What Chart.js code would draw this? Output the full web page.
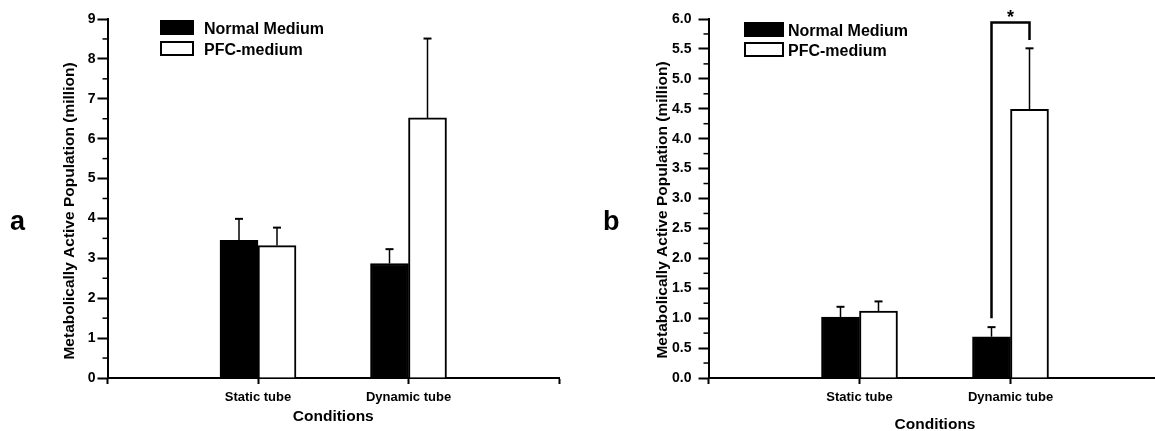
<!DOCTYPE html>
<html>
<head>
<meta charset="utf-8">
<script src="https://cdn.jsdelivr.net/npm/chart.js@4.4.0/dist/chart.umd.min.js"></script>
<style>
  html, body { margin: 0; padding: 0; background: #fff; overflow: hidden; }
  #wrap { position: relative; width: 1155px; height: 431px; overflow: hidden; }
  canvas { position: absolute; top: 0; }
  #chartA { left: 0; }
  #chartB { left: 580px; }
</style>
</head>
<body>
<div id="wrap">
  <canvas id="chartA" width="580" height="431"></canvas>
  <canvas id="chartB" width="600" height="431"></canvas>
</div>
<script>
// categories (empty slots at both ends keep the two groups at 1/3 and 2/3 of the axis)
const categories = ['', 'Static tube', 'Dynamic tube', ''];
const seriesNames = ['Normal Medium', 'PFC-medium'];

// panel a
const normalA = [null, 3.45, 2.87, null];
const normalAErr = [null, 0.54, 0.36, null];
const pfcA = [null, 3.32, 6.52, null];
const pfcAErr = [null, 0.45, 1.99, null];
const ticksA = [0, 1, 2, 3, 4, 5, 6, 7, 8, 9];

// panel b
const normalB = [null, 1.02, 0.69, null];
const normalBErr = [null, 0.17, 0.16, null];
const pfcB = [null, 1.12, 4.49, null];
const pfcBErr = [null, 0.16, 1.02, null];
const ticksB = [0, 0.5, 1, 1.5, 2, 2.5, 3, 3.5, 4, 4.5, 5, 5.5, 6];

// significance bracket on Dynamic tube (panel b): foot heights + top
const sigLow = [1.0, 5.65];
const sigTop = 5.94;

const FONT = '"Liberation Sans", Arial, Helvetica, sans-serif';
Chart.defaults.font.family = FONT;
Chart.defaults.color = '#000';

const panelDecor = {
  id: 'panelDecor',
  afterDatasetsDraw(chart) {
    // error bars (upper half only)
    const ctx = chart.ctx;
    const y = chart.scales.y;
    ctx.save();
    ctx.strokeStyle = '#000';
    chart.data.datasets.forEach((ds, i) => {
      const meta = chart.getDatasetMeta(i);
      meta.data.forEach((bar, j) => {
        const v = ds.data[j], e = ds.errors[j];
        if (v == null || e == null) return;
        const y0 = y.getPixelForValue(v);
        const y1 = y.getPixelForValue(v + e);
        ctx.lineWidth = 1.5;
        ctx.beginPath();
        ctx.moveTo(bar.x, y0);
        ctx.lineTo(bar.x, y1);
        ctx.stroke();
        ctx.lineWidth = 2;
        ctx.beginPath();
        ctx.moveTo(bar.x - 4, y1);
        ctx.lineTo(bar.x + 4, y1);
        ctx.stroke();
      });
    });
    ctx.restore();
  },
  afterDraw(chart, args, o) {
    const ctx = chart.ctx;
    const area = chart.chartArea;
    const y = chart.scales.y;
    ctx.save();
    ctx.fillStyle = '#000';
    ctx.strokeStyle = '#000';

    // minor ticks
    ctx.lineWidth = 1.5;
    const step = o.minorStep;
    for (let v = y.min + step; v < y.max; v += 2 * step) {
      const py = y.getPixelForValue(v);
      ctx.beginPath();
      ctx.moveTo(area.left - 5, py);
      ctx.lineTo(area.left, py);
      ctx.stroke();
    }

    // axis titles
    ctx.font = 'bold 15.5px ' + FONT;
    ctx.textAlign = 'center';
    ctx.textBaseline = 'middle';
    ctx.save();
    ctx.translate(o.yTitleX, o.yTitleY);
    ctx.rotate(-Math.PI / 2);
    ctx.fillText('Metabolically Active Population (million)', 0, 0);
    ctx.restore();
    ctx.textBaseline = 'alphabetic';
    ctx.fillText('Conditions', (area.left + area.right) / 2, o.xTitleY);

    // panel letter
    ctx.font = 'bold 27px ' + FONT;
    ctx.textAlign = 'left';
    ctx.fillText(o.letter, o.letterX, 230);

    // legend
    ctx.font = 'bold 16px ' + FONT;
    ctx.lineWidth = 2;
    chart.data.datasets.forEach((ds, i) => {
      const top = o.legendY[i];
      ctx.fillStyle = ds.backgroundColor;
      ctx.fillRect(o.boxX, top, o.boxW, 15);
      ctx.strokeRect(o.boxX + 1, top + 1, o.boxW - 2, 13);
      ctx.fillStyle = '#000';
      ctx.fillText(ds.label, o.textX, top + 14);
    });

    // significance bracket
    if (o.bracket) {
      const xa = chart.getDatasetMeta(0).data[2].x;
      const xb = chart.getDatasetMeta(1).data[2].x;
      const yt = y.getPixelForValue(sigTop);
      ctx.lineWidth = 2.5;
      ctx.beginPath();
      ctx.moveTo(xa, y.getPixelForValue(sigLow[0]));
      ctx.lineTo(xa, yt);
      ctx.lineTo(xb, yt);
      ctx.lineTo(xb, y.getPixelForValue(sigLow[1]));
      ctx.stroke();
      ctx.font = 'bold 18px ' + FONT;
      ctx.textAlign = 'center';
      ctx.fillText('*', (xa + xb) / 2, yt);
    }
    ctx.restore();
  }
};

function buildChart(id, normal, normalErr, pfc, pfcErr, yTicks, decimals, yWidth, padRight, tickPad, decor) {
  return new Chart(document.getElementById(id), {
    type: 'bar',
    data: {
      labels: categories,
      datasets: [
        { label: seriesNames[0], data: normal, errors: normalErr, backgroundColor: '#000', borderColor: '#000', borderWidth: 2, barThickness: 38 },
        { label: seriesNames[1], data: pfc, errors: pfcErr, backgroundColor: '#fff', borderColor: '#000', borderWidth: 2, barThickness: 38 }
      ]
    },
    options: {
      responsive: false,
      animation: false,
      layout: { padding: { top: 19, right: padRight, left: 0, bottom: 0 } },
      plugins: { legend: { display: false }, tooltip: { enabled: false }, panelDecor: decor },
      scales: {
        x: {
          offset: false,
          grid: { offset: false, drawOnChartArea: false, tickLength: 6, tickWidth: 2, tickColor: '#000' },
          border: { color: '#000', width: 2 },
          ticks: { font: { size: 13, weight: 'bold' }, color: '#000', autoSkip: false, maxRotation: 0, minRotation: 0, padding: 6 },
          afterFit: s => { s.height = 53; }
        },
        y: {
          min: yTicks[0],
          max: yTicks[yTicks.length - 1],
          grid: { drawOnChartArea: false, tickLength: 10, tickWidth: 2, tickColor: '#000' },
          border: { color: '#000', width: 2 },
          ticks: {
            stepSize: yTicks[1] - yTicks[0],
            font: { size: 14, weight: 'bold' },
            color: '#000',
            padding: tickPad,
            callback: v => v.toFixed(decimals)
          },
          afterFit: s => { s.width = yWidth; }
        }
      }
    },
    plugins: [panelDecor]
  });
}

buildChart('chartA', normalA, normalAErr, pfcA, pfcAErr, ticksA, 0, 107.5, 21, 2, {
  minorStep: 0.5, yTitleX: 70, yTitleY: 211, xTitleY: 421, letter: 'a', letterX: 10,
  boxX: 160, boxW: 34, textX: 204, legendY: [20, 41]
});

buildChart('chartB', normalB, normalBErr, pfcB, pfcBErr, ticksB, 1, 128.5, 18.5, 7, {
  minorStep: 0.25, yTitleX: 83, yTitleY: 210, xTitleY: 429, letter: 'b', letterX: 23,
  boxX: 164, boxW: 40, textX: 208, legendY: [22, 42], bracket: true
});
</script>
</body>
</html>
